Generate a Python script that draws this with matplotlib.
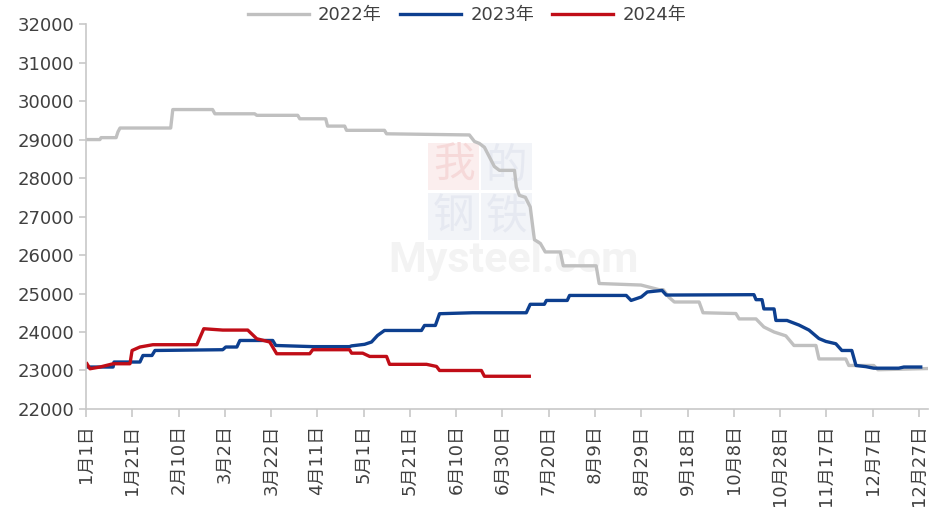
import matplotlib
matplotlib.use("Agg")
import matplotlib.pyplot as plt
from matplotlib.patches import Rectangle
import datetime as dt

plt.rcParams["font.family"] = ["DejaVu Sans", "Noto Sans CJK SC"]

GRAY = "#c0c0c0"
BLUE = "#0d3f8f"
RED = "#c00d17"
TXT = "#404040"
AXC = "#c8c8c8"

# ── Données (jour de l'année, prix) ────────────────────────────────────────────
days_2022 = [0, 6, 6.5, 13, 13.8, 14.7, 36.6, 37.5, 54.7, 55.7, 72.9, 73.8, 91.5,
             92.4, 103.6, 104.4, 111.8, 112.6, 129, 129.9, 165.7, 167.9, 170,
             172.2, 176.5, 178.7, 185.2, 186, 187.3, 189.9, 192, 193.8, 196.4,
             198.5, 205, 206.3, 220.5, 221.8, 239.9, 247.7, 249.5, 252, 254.3,
             265, 266.7, 280.9, 282.3, 289.6, 293, 297.4, 302.5, 306, 315.5,
             316.8, 328.4, 329.7, 340.5, 342.3, 363.4]
price_2022 = [29000, 29000, 29050, 29050, 29200, 29300, 29300, 29780, 29780, 29670,
              29670, 29630, 29630, 29540, 29540, 29350, 29350, 29240, 29240, 29150,
              29120, 28950, 28900, 28800, 28300, 28200, 28200, 27770, 27550, 27500,
              27250, 26400, 26300, 26080, 26080, 25720, 25720, 25260, 25220, 25100,
              25100, 24900, 24780, 24780, 24500, 24480, 24340, 24340, 24130, 24000,
              23900, 23650, 23650, 23300, 23300, 23130, 23130, 23020, 23050]

days_2023 = [0.5, 11.7, 12.1, 23.3, 24.6, 28.5, 29.8, 59.1, 60.4, 65.2, 66.5, 80.7,
             82, 98, 113.9, 114.8, 120.4, 123.4, 126, 129, 145, 146.3, 151, 152.8,
             167, 175.7, 190.3, 192, 198.1, 199, 208, 209, 233.5, 235.6, 240, 242.6,
             249, 250.8, 288.7, 289.6, 292.2, 293, 297.4, 298.2, 303, 308.2, 312.5,
             316.8, 319.8, 324.1, 326.7, 331, 332.8, 337.1, 340.5, 351.3, 353.5,
             360.8]
price_2023 = [23090, 23090, 23220, 23220, 23390, 23390, 23520, 23540, 23610, 23610,
              23780, 23780, 23650, 23620, 23620, 23640, 23680, 23740, 23910, 24040,
              24040, 24170, 24170, 24475, 24500, 24500, 24500, 24720, 24720, 24820,
              24820, 24950, 24950, 24820, 24910, 25040, 25080, 24960, 24970, 24840,
              24840, 24600, 24600, 24300, 24300, 24180, 24050, 23830, 23755, 23695,
              23520, 23520, 23130, 23100, 23060, 23060, 23090, 23090]

days_2024 = [0.4, 1.7, 6, 11.7, 19, 19.9, 23.3, 28.9, 47.9, 50.9, 59.1, 69.9, 73.8,
             79.4, 82.4, 96.7, 98, 113.9, 114.8, 119.6, 122.6, 129.9, 131.2, 147.2,
             151.5, 152.8, 170.9, 172.2, 191.6]
price_2024 = [23175, 23045, 23090, 23175, 23175, 23520, 23610, 23670, 23670, 24085,
              24050, 24050, 23825, 23740, 23435, 23435, 23540, 23540, 23450, 23450,
              23365, 23365, 23160, 23160, 23105, 23000, 23000, 22850, 22850]

series = [("2022年", days_2022, price_2022, GRAY),
          ("2023年", days_2023, price_2023, BLUE),
          ("2024年", days_2024, price_2024, RED)]

tick_days = list(range(0, 361, 20))
start = dt.date(2022, 1, 1)
tick_labels = []
for d in tick_days:
    day = start + dt.timedelta(days=d)
    tick_labels.append(f"{day.month}月{day.day}日")

# ── Figure ─────────────────────────────────────────────────────────────────────
fig = plt.figure(figsize=(9.3, 5.24), dpi=100)
ax = fig.add_axes([0.0925, 0.2195, 0.9055, 0.7345])

# filigrane (logo pâle)
cells = [(0.406, 0.569, "我", "#fbeeee", "#f6d9d9"),
         (0.469, 0.569, "的", "#f2f4f8", "#e6e9f1"),
         (0.406, 0.439, "钢", "#f2f4f8", "#e6e9f1"),
         (0.469, 0.439, "铁", "#f2f4f8", "#e6e9f1")]
for x0, y0, ch, bg, fg in cells:
    ax.add_patch(Rectangle((x0, y0), 0.061, 0.122, transform=ax.transAxes,
                           facecolor=bg, edgecolor="none", zorder=0))
    ax.text(x0 + 0.0305, y0 + 0.061, ch, transform=ax.transAxes, ha="center",
            va="center", fontsize=30, color=fg, family="Noto Sans CJK SC", zorder=0)
ax.text(0.507, 0.385, "Mysteel.com", transform=ax.transAxes, ha="center",
        va="center", fontsize=31, color="#f3f3f3", family="Roboto",
        fontweight="bold", zorder=0)

for name, d, p, c in series:
    ax.plot(d, p, color=c, lw=2.4, label=name, solid_joinstyle="round")

ax.set_xlim(0, 364)
ax.set_ylim(22000, 32000)
ax.set_yticks(range(22000, 32001, 1000))
ax.set_xticks(tick_days)
ax.set_xticklabels(tick_labels, rotation=90, fontsize=13, color=TXT)
ax.tick_params(axis="y", labelsize=13, colors=AXC, labelcolor=TXT, length=5, width=1.2)
ax.tick_params(axis="x", colors=AXC, labelcolor=TXT, length=6, width=1.2, pad=5)

for side in ("top", "right"):
    ax.spines[side].set_visible(False)
for side in ("left", "bottom"):
    ax.spines[side].set_color(AXC)
    ax.spines[side].set_linewidth(1.2)

fig.legend(loc="center", bbox_to_anchor=(0.502, 0.971), ncol=3, frameon=False,
           fontsize=13, handlelength=3.4, columnspacing=1.0, handletextpad=0.5,
           labelcolor=TXT)

fig.savefig("out.png", dpi=100)
